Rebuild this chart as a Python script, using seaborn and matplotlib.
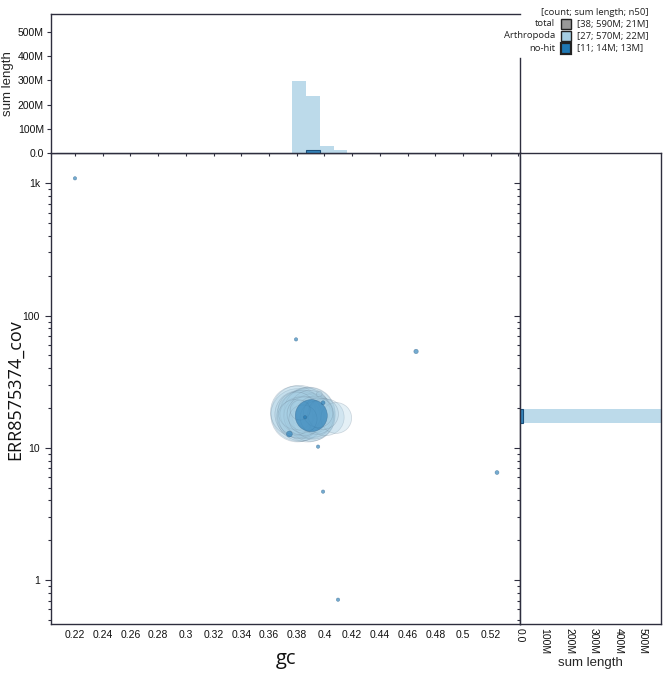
import numpy as np
import pandas as pd
import matplotlib
matplotlib.use("Agg")
import matplotlib.pyplot as plt
import seaborn as sns
from matplotlib.ticker import FixedLocator, FuncFormatter, LogLocator, NullFormatter
from matplotlib.patches import Rectangle

# ---------------- data ----------------
ARTH_GC = [0.3817, 0.3805, 0.3795, 0.3830, 0.3812, 0.3840, 0.3822, 0.3850, 0.3800, 0.3790,
           0.3855, 0.3845, 0.3825,
           0.3880, 0.3890, 0.3900, 0.3875, 0.3910, 0.3920, 0.3895, 0.3930, 0.3945, 0.3955,
           0.4010, 0.3990, 0.4085, 0.3963]
ARTH_COV = [18.2, 17.6, 18.8, 17.2, 17.9, 18.5, 16.8, 17.4, 19.0, 17.0,
            18.0, 16.5, 19.3,
            17.8, 18.3, 17.1, 18.9, 17.5, 16.7, 19.2, 17.9, 16.9, 18.4,
            17.0, 18.0, 16.8, 25.5]
ARTH_LEN_M = [40, 36, 33, 30, 28, 25, 22, 20, 18, 16, 15, 10, 5,
              38, 34, 30, 27, 24, 22, 20, 17, 14, 11,
              17, 12, 12, 0.3]

NOHIT_GC = [0.3905, 0.2200, 0.3795, 0.4661, 0.5245, 0.3954, 0.3990, 0.4098, 0.3747, 0.3990, 0.3860]
NOHIT_COV = [17.5, 1090, 66, 53.5, 6.5, 10.2, 4.66, 0.71, 12.7, 21.9, 17.0]
NOHIT_LEN_M = [13, 0.05, 0.05, 0.15, 0.1, 0.05, 0.05, 0.05, 0.35, 0.1, 0.05]

LEGEND_NAMES = ["total", "Arthropoda", "no-hit"]
LEGEND_STATS = ["[38; 590M; 21M]", "[27; 570M; 22M]", "[11; 14M; 13M]"]
LEGEND_TITLE = "[count; sum length; n50]"
COLORS = ["#999999", "#a6cee3", "#1f78b4"]

X_TICKS = [0.22, 0.24, 0.26, 0.28, 0.30, 0.32, 0.34, 0.36, 0.38, 0.40, 0.42, 0.44,
           0.46, 0.48, 0.50, 0.52]
Y_TICKS = [1, 10, 100, 1000]
Y_TICK_LABELS = ["1", "10", "100", "1k"]
LEN_TICKS = [0, 100e6, 200e6, 300e6, 400e6, 500e6]

arth = pd.DataFrame({"gc": ARTH_GC, "cov": ARTH_COV, "length": np.array(ARTH_LEN_M) * 1e6})
nohit = pd.DataFrame({"gc": NOHIT_GC, "cov": NOHIT_COV, "length": np.array(NOHIT_LEN_M) * 1e6})
arth = arth.sort_values("length", ascending=False)
nohit = nohit.sort_values("length", ascending=False)

GC_EDGES = [round(0.2066 + 0.01 * i, 4) for i in range(34)]
LOGCOV_EDGES = [round(1.189 - 0.106 * 15 + 0.106 * i, 4) for i in range(35)]

XLIM = (0.2027, 0.5411)
YLIM = (0.465, 1694)
LENMAX = 574e6

# ---------------- style ----------------
sns.set_style("ticks")
plt.rcParams["font.family"] = ["Liberation Sans", "DejaVu Sans"]
plt.rcParams["axes.edgecolor"] = "#2e2e3e"
plt.rcParams["xtick.color"] = "#2e2e3e"
plt.rcParams["ytick.color"] = "#2e2e3e"
plt.rcParams["xtick.labelcolor"] = "#111111"
plt.rcParams["ytick.labelcolor"] = "#111111"
plt.rcParams["axes.linewidth"] = 1.0

W, H = 668, 675
fig = plt.figure(figsize=(W / 100, H / 100), dpi=100)


def fx(px):
    return px / W


def fy(py):
    return 1 - py / H


main_l, main_r, main_t, main_b = 51, 520, 153, 624
right_r = 661
top_t = 14

ax = fig.add_axes([fx(main_l), fy(main_b), fx(main_r - main_l), (main_b - main_t) / H])
ax_top = fig.add_axes([fx(main_l), fy(main_t), fx(main_r - main_l), (main_t - top_t) / H])
ax_right = fig.add_axes([fx(main_r), fy(main_b), fx(right_r - main_r), (main_b - main_t) / H])

size_kw = dict(size="length", sizes=(4, 1630), size_norm=(0, 40e6), legend=False)

# ---------------- main scatter ----------------
ax.set_yscale("log")
sns.scatterplot(data=arth, x="gc", y="cov", color=COLORS[1], alpha=0.3,
                edgecolor="#6a7f92", linewidth=0.5, ax=ax, zorder=2, **size_kw)
sns.scatterplot(data=nohit, x="gc", y="cov", color=COLORS[2], alpha=0.62,
                edgecolor="#3a6a90", linewidth=0.4, ax=ax, zorder=3, **size_kw)
ax.set_xlim(*XLIM)
ax.set_ylim(*YLIM)
ax.set_xlabel("")
ax.set_ylabel("")
ax.xaxis.set_major_locator(FixedLocator(X_TICKS))
ax.xaxis.set_major_formatter(FuncFormatter(lambda v, p: f"{v:g}"))
ax.yaxis.set_major_locator(FixedLocator(Y_TICKS))
ax.yaxis.set_major_formatter(FuncFormatter(
    lambda v, p: Y_TICK_LABELS[Y_TICKS.index(int(round(v)))] if int(round(v)) in Y_TICKS else ""))
ax.yaxis.set_minor_locator(LogLocator(base=10, subs=np.arange(2, 10)))
ax.yaxis.set_minor_formatter(NullFormatter())
ax.tick_params(axis="both", which="major", labelsize=7.5, length=4, width=0.8, pad=4)
ax.tick_params(axis="y", which="minor", length=2.5, width=0.8)
ax.tick_params(axis="x", which="major", length=0, pad=4)

# ---------------- top histogram ----------------
sns.histplot(data=arth, x="gc", weights="length", bins=GC_EDGES, color=COLORS[1],
             alpha=0.75, linewidth=0, ax=ax_top)
sns.histplot(data=nohit, x="gc", weights="length", bins=GC_EDGES, color=COLORS[2],
             alpha=0.85, edgecolor="#1a4f7a", linewidth=0.8, ax=ax_top)
ax_top.set_xlim(*XLIM)
ax_top.set_ylim(0, LENMAX)
ax_top.set_xlabel("")
ax_top.set_ylabel("sum length", fontsize=9.5, labelpad=3)
ax_top.xaxis.set_major_locator(FixedLocator(X_TICKS + [0.54]))
ax_top.xaxis.set_major_formatter(NullFormatter())
ax_top.yaxis.set_major_locator(FixedLocator(LEN_TICKS))
ax_top.yaxis.set_major_formatter(FuncFormatter(lambda v, p: "0.0" if v == 0 else f"{v / 1e6:.0f}M"))
ax_top.tick_params(axis="x", length=2.5, width=0.8)
ax_top.tick_params(axis="y", labelsize=7.5, length=3, width=0.8, pad=2)
ax_top.spines["right"].set_bounds(0, LENMAX * (main_t - 58) / (main_t - top_t))

# ---------------- right histogram ----------------
sns.histplot(data=arth, y="cov", weights="length", bins=LOGCOV_EDGES, log_scale=(False, True),
             color=COLORS[1], alpha=0.75, linewidth=0, ax=ax_right)
sns.histplot(data=nohit, y="cov", weights="length", bins=LOGCOV_EDGES, log_scale=(False, True),
             color=COLORS[2], alpha=0.85, edgecolor="#1a4f7a", linewidth=0.8, ax=ax_right)
ax_right.set_ylim(*YLIM)
ax_right.set_xlim(0, LENMAX)
ax_right.set_ylabel("")
ax_right.set_xlabel("sum length", fontsize=9.5, labelpad=2)
ax_right.xaxis.set_major_locator(FixedLocator(LEN_TICKS))
ax_right.xaxis.set_major_formatter(FuncFormatter(lambda v, p: "0.0" if v == 0 else f"{v / 1e6:.0f}M"))
ax_right.yaxis.set_major_locator(FixedLocator(Y_TICKS))
ax_right.yaxis.set_major_formatter(NullFormatter())
ax_right.yaxis.set_minor_locator(LogLocator(base=10, subs=np.arange(2, 10)))
ax_right.yaxis.set_minor_formatter(NullFormatter())
ax_right.tick_params(axis="x", labelsize=7.5, length=0, pad=3, labelrotation=-90)
ax_right.tick_params(axis="y", which="major", length=4, width=0.8)
ax_right.tick_params(axis="y", which="minor", length=2.5, width=0.8)
for lab in ax_right.get_xticklabels():
    lab.set_va("top")
    lab.set_ha("center")

# ---------------- axis titles ----------------
fig.text(fx(285.5), fy(664), "gc", fontsize=14.5, family=["Open Sans", "DejaVu Sans"],
         ha="center", va="baseline", color="#111111")
fig.text(fx(15), fy(390), "ERR8575374_cov", fontsize=13, family=["Open Sans", "DejaVu Sans"],
         ha="center", va="center", rotation=90, color="#111111")

# ---------------- legend ----------------
leg_font = dict(fontsize=6.8, family=["Open Sans", "DejaVu Sans"], color="#222222")
fig.text(fx(649), fy(12.5), LEGEND_TITLE, ha="right", va="center", **leg_font)
row_y = [24, 36, 48.5]
for name, stat, col, yy in zip(LEGEND_NAMES, LEGEND_STATS, COLORS, row_y):
    fig.text(fx(555), fy(yy), name, ha="right", va="center", **leg_font)
    fig.text(fx(577), fy(yy), stat, ha="left", va="center", **leg_font)
    lw = 1.6 if name == "no-hit" else 1.0
    fig.patches.append(Rectangle((fx(560.5), fy(yy + 5)), fx(10), 10 / H, facecolor=col,
                                 edgecolor="#222222", linewidth=lw, transform=fig.transFigure,
                                 figure=fig))

fig.savefig("out.png", dpi=100)
